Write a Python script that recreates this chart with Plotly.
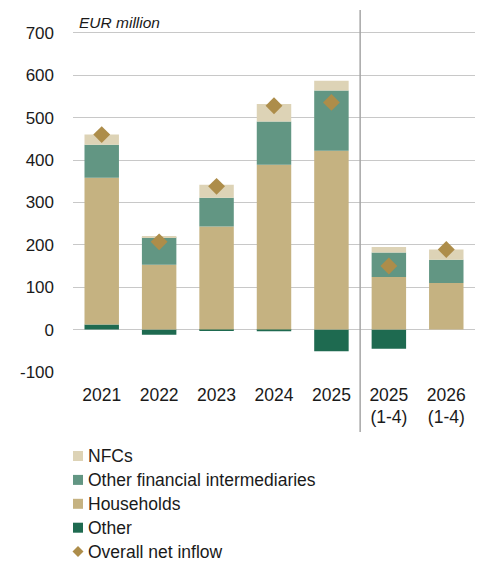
import plotly.graph_objects as go

# Net inflow by investor sector, EUR million
categories = ["2021", "2022", "2023", "2024", "2025", "2025<br>(1-4)", "2026<br>(1-4)"]
other = [12, -12, -3, -4, -51, -45, 0]
households = [346, 153, 243, 389, 422, 124, 110]
ofi = [78, 65, 68, 102, 142, 58, 55]
nfcs = [24, 1, 31, 41, 23, 13, 24]
net_inflow = [460, 207, 338, 528, 536, 150, 189]
y_ticks = [-100, 0, 100, 200, 300, 400, 500, 600, 700]

FONT = "Liberation Sans, Arial, sans-serif"
W, H = 479, 563
M_L, M_R, M_T, M_B = 73, 4, 10, 191
PW, PH = W - M_L - M_R, H - M_T - M_B

series = [
    ("Other", other, "#1e6a50"),
    ("Households", households, "#c5b281"),
    ("Other financial intermediaries", ofi, "#629683"),
    ("NFCs", nfcs, "#ddd3b6"),
]
DIAMOND = "#ad8d4a"

fig = go.Figure()
for name, vals, color in series:
    fig.add_trace(go.Bar(
        x=categories, y=vals, name=name,
        marker=dict(color=color, line=dict(width=0)),
        width=0.6,
    ))

fig.add_trace(go.Scatter(
    x=categories, y=net_inflow, name="Overall net inflow", mode="markers",
    marker=dict(symbol="diamond", size=13, color=DIAMOND),
))


def px_x(px):
    return (px - M_L) / PW


def px_y(py):
    return (H - M_B - py) / PH


# vertical divider between full years and Jan-Apr figures
fig.add_shape(type="line", xref="paper", yref="paper",
              x0=5 / 7, x1=5 / 7, y0=px_y(432), y1=1.0,
              line=dict(color="#a6a6a6", width=1.5))

fig.add_annotation(text="<i>EUR million</i>", xref="paper", yref="paper",
                   x=px_x(77), y=px_y(23), xanchor="left", yanchor="middle",
                   showarrow=False, font=dict(size=15.5, color="#1a1a1a", family=FONT))

# legend drawn below the chart as a single column
legend_rows = [
    ("NFCs", "#ddd3b6", "square"),
    ("Other financial intermediaries", "#629683", "square"),
    ("Households", "#c5b281", "square"),
    ("Other", "#1e6a50", "square"),
    ("Overall net inflow", DIAMOND, "diamond"),
]
row_y = 456
for label, color, kind in legend_rows:
    cx = 78
    if kind == "square":
        fig.add_shape(type="rect", xref="paper", yref="paper",
                      x0=px_x(cx - 5), x1=px_x(cx + 5),
                      y0=px_y(row_y + 5), y1=px_y(row_y - 5),
                      fillcolor=color, line=dict(width=0))
    else:
        fig.add_shape(type="path", xref="paper", yref="paper",
                      path=(f"M {px_x(cx - 5.5)} {px_y(row_y)} L {px_x(cx)} {px_y(row_y - 5.5)} "
                            f"L {px_x(cx + 5.5)} {px_y(row_y)} L {px_x(cx)} {px_y(row_y + 5.5)} Z"),
                      fillcolor=color, line=dict(width=0))
    fig.add_annotation(text=label, xref="paper", yref="paper",
                       x=px_x(86), y=px_y(row_y), xanchor="left", yanchor="middle",
                       showarrow=False, font=dict(size=17.5, color="#1a1a1a", family=FONT))
    row_y += 23.9

fig.update_layout(
    width=W, height=H,
    margin=dict(l=M_L, r=M_R, t=M_T, b=M_B, autoexpand=False),
    barmode="relative", bargap=0.4,
    plot_bgcolor="white", paper_bgcolor="white",
    font=dict(family=FONT, size=17, color="#1a1a1a"),
    showlegend=False,
    xaxis=dict(
        type="category", range=[-0.5, 6.5], showgrid=False,
        showline=False, ticks="", tickfont=dict(size=17.5),
        ticklabelstandoff=10,
    ),
    yaxis=dict(
        range=[-100, 754], tickvals=y_ticks, ticktext=[str(v) for v in y_ticks],
        showgrid=True, gridcolor="#c8c8c8", gridwidth=1.3,
        zeroline=True, zerolinecolor="#c8c8c8", zerolinewidth=1.3,
        ticks="", ticklabelstandoff=18, tickfont=dict(size=17),
    ),
)

fig.write_html("out.html")
